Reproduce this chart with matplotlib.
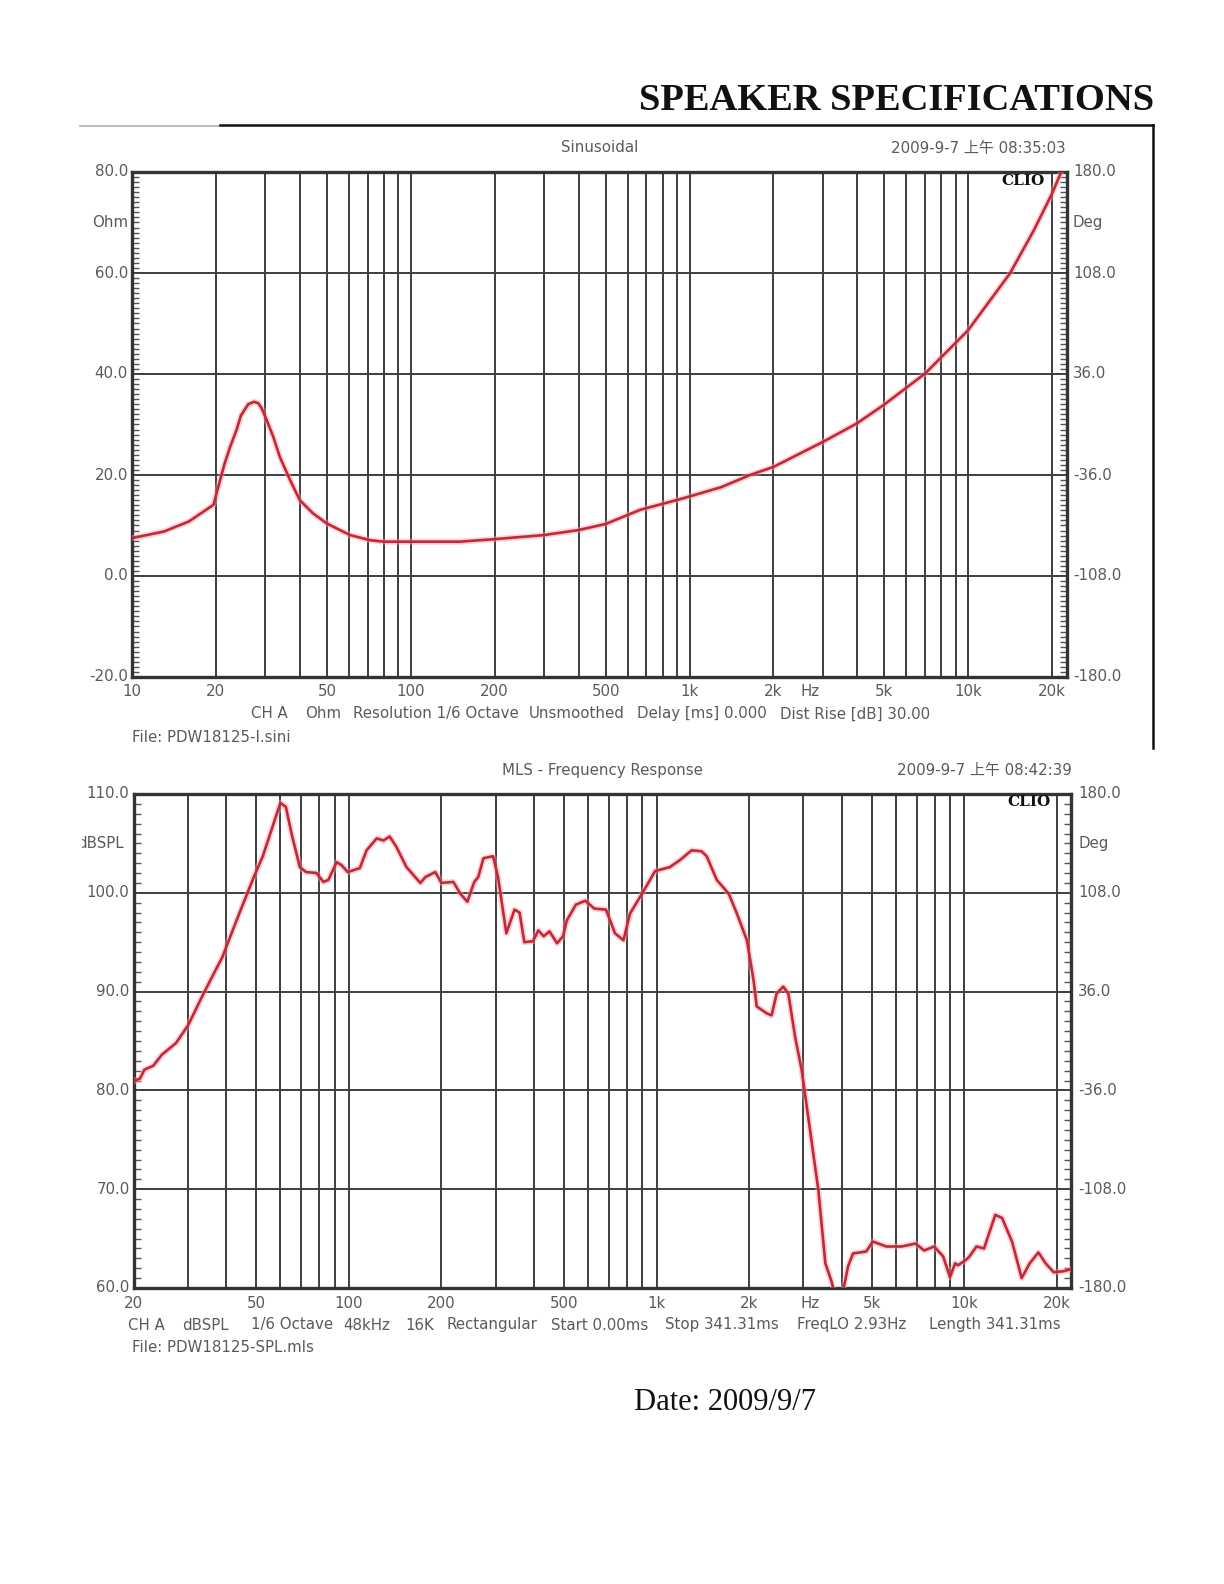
import matplotlib
matplotlib.use("Agg")
import matplotlib.pyplot as plt
from matplotlib.lines import Line2D
from matplotlib.ticker import MultipleLocator, NullLocator
from matplotlib.transforms import offset_copy, Bbox, TransformedBbox

# ---------- data ----------

# impedance curve (Hz, Ohm)
imp_freq = [10, 13, 16, 19.6, 20.7, 21.5, 22.5, 23.7, 24.6, 26.1, 27.4,
            28.4, 29.2, 30.4, 32.1, 33.9, 36.9, 40, 44.6, 50, 60.6, 71.4, 79.6,
            99, 150, 200, 300, 400, 500, 665, 951, 1300, 1649, 2000, 3020,
            3980, 4980, 7000, 9960, 14100, 17200, 20000, 21700]
imp_ohm = [7.5, 8.8, 10.8, 14.1, 19.0, 22.3, 25.6, 28.9, 31.8, 34.0, 34.5,
           34.2, 33.2, 30.9, 27.6, 23.6, 19.0, 15.0, 12.4, 10.4, 8.1, 7.1, 6.8,
           6.8, 6.8, 7.3, 8.1, 9.1, 10.3, 13.1, 15.4, 17.6, 20.0, 21.6, 26.6,
           30.2, 33.9, 40.1, 48.6, 59.9, 68.5, 75.8, 80.4]

# SPL curve (Hz, dB)
spl_freq = [20.2, 21.0, 21.7, 23.2, 24.7, 27.5, 30.1, 33.4, 36.7, 38.9, 40.0,
            44.1, 49.2, 52.6, 56.6, 60.0, 62.5, 65.2, 69.4, 72.7, 78.6, 82.8,
            85.9, 91.4, 94.8, 99.3, 108.7, 114.3, 123.3, 129.8, 135.8, 142.6,
            154.1, 170.9, 177.6, 191.1, 200.2, 218.8, 230.6, 242.9, 255.9,
            263.6, 274, 294.5, 305.5, 325.2, 345.7, 359, 372, 397, 413, 430,
            449, 475, 497, 511, 547, 587, 628, 685, 733, 781, 820, 905, 989,
            1104, 1190, 1300, 1400, 1455, 1570, 1717, 1824, 1966, 2065, 2116,
            2280, 2365, 2455, 2580, 2680, 2820, 2960, 3110, 3355, 3535, 3690,
            3780, 4030, 4190, 4350, 4800, 5040, 5580, 6260, 6940, 7400, 7980,
            8530, 8980, 9330, 9530, 10070, 10330, 10950, 11580, 12600, 13250,
            14280, 15350, 16300, 17400, 18360, 19500, 21000, 22200]
spl_db = [81.0, 81.2, 82.1, 82.5, 83.6, 84.8, 86.6, 89.5, 92.0, 93.5, 94.5,
          97.9, 101.6, 103.7, 106.7, 109.1, 108.7, 106.0, 102.6, 102.1, 102.0, 101.1,
          101.3, 103.1, 102.8, 102.1, 102.5, 104.3, 105.5, 105.3, 105.7, 104.7,
          102.6, 101.0, 101.6, 102.1, 101.0, 101.1, 99.9, 99.1, 101.1,
          101.6, 103.5, 103.7, 101.6, 95.9, 98.3, 98.0, 95.0, 95.1, 96.2, 95.6,
          96.1, 94.9, 95.6, 97.2, 98.8, 99.2, 98.4, 98.3, 95.9, 95.2, 97.9, 100.1, 102.2,
          102.6, 103.3, 104.3, 104.2, 103.7, 101.3, 99.9, 97.9, 95.2, 91.2, 88.5,
          87.8, 87.6, 89.8, 90.5, 89.8, 85.4, 82.1, 77.3, 69.9, 62.5, 60.8,
          59.6, 59.6, 62.2, 63.5, 63.7, 64.7, 64.2, 64.2, 64.5, 63.8, 64.2,
          63.2, 61.1, 62.5, 62.3, 62.8, 63.1, 64.2, 64.0, 67.4, 67.1,
          64.7, 61.0, 62.5, 63.6, 62.5, 61.6, 61.7, 61.9]

imp_xticks = [10, 20, 50, 100, 200, 500, 1000, 2000, 5000, 10000, 20000]
imp_xlabels = ["10", "20", "50", "100", "200", "500", "1k", "2k", "5k", "10k", "20k"]
spl_xticks = [20, 50, 100, 200, 500, 1000, 2000, 5000, 10000, 20000]
spl_xlabels = ["20", "50", "100", "200", "500", "1k", "2k", "5k", "10k", "20k"]

imp_left = [(80, "80.0"), (70, "Ohm"), (60, "60.0"), (40, "40.0"), (20, "20.0"),
            (0, "0.0"), (-20, "-20.0")]
imp_right = [(80, "180.0"), (70, "Deg"), (60, "108.0"), (40, "36.0"), (20, "-36.0"),
             (0, "-108.0"), (-20, "-180.0")]
spl_left = [(110, "110.0"), (100, "100.0"), (90, "90.0"), (80, "80.0"),
            (70, "70.0"), (60, "60.0")]
spl_right = [(110, "180.0"), (105, "Deg"), (100, "108.0"), (90, "36.0"), (80, "-36.0"),
             (70, "-108.0"), (60, "-180.0")]

imp_info = [(251, "CH A"), (305, "Ohm"), (353, "Resolution 1/6 Octave"),
            (529, "Unsmoothed"), (637, "Delay [ms] 0.000"), (780, "Dist Rise [dB] 30.00")]
spl_info = [(128, "CH A"), (182, "dBSPL"), (251, "1/6 Octave"), (343, "48kHz"),
            (405, "16K"), (447, "Rectangular"), (551, "Start 0.00ms"),
            (665, "Stop 341.31ms"), (797, "FreqLO 2.93Hz"), (929, "Length 341.31ms")]

W, H = 1224, 1584
TXT = "#5a5a5a"
GRID = "#3e3e3e"
RED = "#c42836"
FAM = ["DejaVu Sans", "Noto Sans CJK SC"]
FS = 10.8

fig = plt.figure(figsize=(W / 100, H / 100), dpi=100)
fig.patch.set_facecolor("white")


def fx(x):
    return x / W


def fy(y):
    return 1 - y / H


def make_panel(rect, xlim, ylim, ystep, freq, vals, xticks, xlabels, hz_pos,
               left, right, rpad):
    l, t, r, b = rect
    ax = fig.add_axes([fx(l), fy(b), (r - l) / W, (b - t) / H])
    ax.set_xscale("log")
    ax.set_xlim(*xlim)
    ax.set_ylim(*ylim)

    # vertical grid at every 1..9 multiple
    grid_f = []
    for dec in [10, 100, 1000, 10000]:
        for m in range(1, 10):
            f = m * dec
            if xlim[0] < f < xlim[1] * 0.999:
                grid_f.append(f)
    ax.set_xticks(grid_f)
    ax.set_xticklabels([])
    ax.xaxis.set_minor_locator(NullLocator())
    ax.set_yticks(list(range(ylim[0], ylim[1] + 1, ystep)))
    ax.set_yticklabels([])
    ax.yaxis.set_minor_locator(MultipleLocator(1))
    ax.tick_params(which="major", length=0)
    ax.tick_params(which="minor", axis="y", direction="in", length=5, width=1,
                   color="#555555", left=True, right=True)
    ax.grid(True, which="major", color=GRID, linewidth=1.4)
    ax.set_axisbelow(True)
    for s in ax.spines.values():
        s.set_color("#333333")
        s.set_linewidth(2.4)

    ax.plot(freq, vals, color="#f2a3ab", linewidth=4.4, alpha=0.45,
            solid_joinstyle="round", zorder=3)
    ax.plot(freq, vals, color=RED, linewidth=1.9, solid_joinstyle="round", zorder=4)

    xt = offset_copy(ax.get_xaxis_transform(), fig=fig, x=0, y=-15, units="dots")
    for f, lab in zip(xticks, xlabels):
        ax.text(f, 0, lab, transform=xt, ha="center", va="center",
                fontsize=FS, color=TXT, family=FAM)
    ax.text(hz_pos, 0, "Hz", transform=xt, ha="center", va="center",
            fontsize=FS, color=TXT, family=FAM)

    lt = offset_copy(ax.get_yaxis_transform(), fig=fig, x=-4, y=0, units="dots")
    for v, lab in left:
        ax.text(0, v, lab, transform=lt, ha="right", va="center",
                fontsize=FS, color=TXT, family=FAM)
    rt = offset_copy(ax.get_yaxis_transform(), fig=fig, x=rpad, y=0, units="dots")
    for v, lab in right:
        ax.text(1, v, lab, transform=rt, ha="left", va="center",
                fontsize=FS, color=TXT, family=FAM)
    return ax


# ---------- impedance panel ----------
make_panel((132, 172, 1067, 677), (10, 22600), (-20, 80), 20, imp_freq, imp_ohm,
           imp_xticks, imp_xlabels, 2700, imp_left, imp_right, 6)
fig.text(fx(600), fy(148), "Sinusoidal", ha="center", va="center",
         fontsize=FS, color=TXT, family=FAM)
fig.text(fx(1066), fy(148), "2009-9-7 上午 08:35:03", ha="right", va="center",
         fontsize=FS, color=TXT, family=FAM)
fig.text(fx(1023), fy(181), "CLIO", ha="center", va="center", fontsize=11,
         fontweight="bold", family="DejaVu Serif", color="#111111")
for x, s in imp_info:
    fig.text(fx(x), fy(714), s, ha="left", va="center", fontsize=FS,
             color=TXT, family=FAM)
fig.text(fx(132), fy(737), "File: PDW18125-I.sini", ha="left", va="center",
         fontsize=FS, color=TXT, family=FAM)

# ---------- SPL panel ----------
ax_spl = make_panel((133.5, 794, 1071, 1288), (20, 22200), (60, 110), 10, spl_freq, spl_db,
                    spl_xticks, spl_xlabels, 3150, spl_left, spl_right, 7)
# the screenshot is cropped on the left, cutting into the unit label
unit_tr = offset_copy(ax_spl.get_yaxis_transform(), fig=fig, x=-10, y=0, units="dots")
unit = ax_spl.text(0, 105, "dBSPL", transform=unit_tr, ha="right", va="center",
                   fontsize=FS, color=TXT, family=FAM)
unit.set_clip_on(True)
unit.set_clip_box(TransformedBbox(Bbox.from_extents(fx(82), 0, 1, 1), fig.transFigure))

fig.text(fx(602), fy(770), "MLS - Frequency Response", ha="center", va="center",
         fontsize=FS, color=TXT, family=FAM)
fig.text(fx(1072), fy(770), "2009-9-7 上午 08:42:39", ha="right", va="center",
         fontsize=FS, color=TXT, family=FAM)
fig.text(fx(1029), fy(802), "CLIO", ha="center", va="center", fontsize=11,
         fontweight="bold", family="DejaVu Serif", color="#111111")
for x, s in spl_info:
    fig.text(fx(x), fy(1325), s, ha="left", va="center", fontsize=FS,
             color=TXT, family=FAM)
fig.text(fx(132), fy(1347), "File: PDW18125-SPL.mls", ha="left", va="center",
         fontsize=FS, color=TXT, family=FAM)

# ---------- page header / footer ----------
fig.text(fx(1154), fy(101), "SPEAKER SPECIFICATIONS", ha="right", va="center",
         fontsize=27.7, fontweight="bold", family="Liberation Serif", color="#111111")
fig.add_artist(Line2D([fx(80), fx(220)], [fy(126), fy(126)], transform=fig.transFigure,
                      color="#b0b0b0", linewidth=1.2))
fig.add_artist(Line2D([fx(220), fx(1153)], [fy(124.5), fy(124.5)], transform=fig.transFigure,
                      color="#111111", linewidth=1.8))
fig.add_artist(Line2D([fx(1153), fx(1153)], [fy(124.5), fy(748)], transform=fig.transFigure,
                      color="#111111", linewidth=1.8))
fig.text(fx(634), fy(1402), "Date: 2009/9/7", ha="left", va="center",
         fontsize=22, family="Liberation Serif", color="#111111")

fig.savefig("out.png", dpi=100, facecolor="white")
